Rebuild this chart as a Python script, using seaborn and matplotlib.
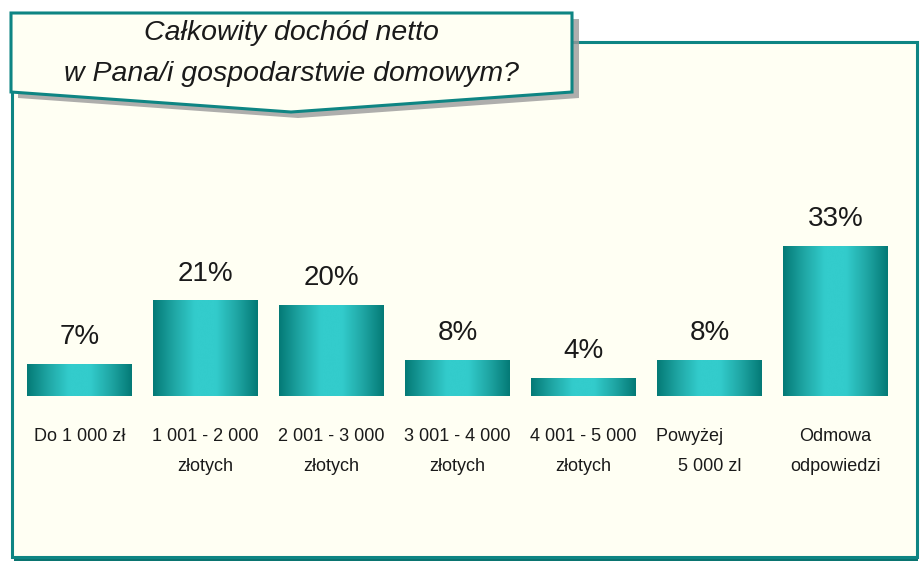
import numpy as np
import pandas as pd
import seaborn as sns
import matplotlib.pyplot as plt
from matplotlib.colors import LinearSegmentedColormap
from matplotlib.patches import Rectangle, Polygon

# data
categories = ['Do 1 000 zł', '1 001 - 2 000\nzłotych', '2 001 - 3 000\nzłotych',
              '3 001 - 4 000\nzłotych', '4 001 - 5 000\nzłotych', 'Powyżej        \n5 000 zl',
              'Odmowa\nodpowiedzi']
values = [7, 21, 20, 8, 4, 8, 33]
title_lines = ['Całkowity dochód netto', 'w Pana/i gospodarstwie domowym?']

W, H = 923, 562

sns.set_style('white')
plt.rcParams['font.family'] = ['Liberation Sans Narrow', 'Liberation Sans', 'DejaVu Sans']

fig = plt.figure(figsize=(W / 100, H / 100), dpi=100)
fig.patch.set_facecolor('white')

def fx(px):
    return px / W

def fy(py):
    return 1 - py / H

teal = '#0E8583'
cream = '#FFFFF3'

# main panel
fig.patches.append(Rectangle((fx(14), fy(561)), fx(918) - fx(14), fy(557) - fy(561),
                             transform=fig.transFigure, facecolor='#0A7470',
                             edgecolor='none', zorder=0))
fig.patches.append(Rectangle((fx(12), fy(557)), fx(917) - fx(12), fy(42) - fy(557),
                             transform=fig.transFigure, facecolor=cream,
                             edgecolor=teal, lw=2.2, zorder=0))

# title box with arrow, plus shadow
box = [(11, 13), (572, 13), (572, 92), (291, 112), (11, 92)]
shadow = [(x + 7, y + 6) for x, y in box]
fig.patches.append(Polygon([(fx(x), fy(y)) for x, y in shadow], closed=True,
                           transform=fig.transFigure, facecolor='#9a9a9a',
                           edgecolor='none', alpha=0.8, zorder=1))
fig.patches.append(Polygon([(fx(x), fy(y)) for x, y in box], closed=True,
                           transform=fig.transFigure, facecolor=cream,
                           edgecolor=teal, lw=2.2, zorder=2))
fig.text(fx(291), fy(33), title_lines[0], ha='center', va='center', fontsize=20.5,
         style='italic', color='#1a1a1a', zorder=3)
fig.text(fx(291), fy(74), title_lines[1], ha='center', va='center', fontsize=20.5,
         style='italic', color='#1a1a1a', zorder=3)

# bars
ax = fig.add_axes([fx(16.5), fy(396), fx(898.5) - fx(16.5), fy(214) - fy(396)])
ax.set_zorder(5)
ax.set_facecolor('none')
df = pd.DataFrame({'cat': categories, 'val': values})
sns.barplot(data=df, x='cat', y='val', color='#2ab7b5', width=0.833, ax=ax)

cmap = LinearSegmentedColormap.from_list(
    'bar', ['#047A76', '#1FA6A4', '#33CCCC', '#33CCCC', '#1FA6A4', '#047A76'])
grad = np.linspace(0, 1, 256).reshape(1, -1)
for p in ax.patches:
    x, w, h = p.get_x(), p.get_width(), p.get_height()
    p.set_edgecolor('none')
    im = ax.imshow(grad, extent=[x, x + w, 0, h], aspect='auto', cmap=cmap,
                   interpolation='bicubic', zorder=2)
    im.set_clip_path(p)
    ax.text(x + w / 2, h + 3.0, f'{h:.0f}%', ha='center', va='bottom',
            fontsize=20, color='#1a1a1a')

ax.set_xlim(-0.5, 6.5)
ax.set_ylim(0, 40)
ax.set_xlabel('')
ax.set_ylabel('')
ax.set_yticks([])
ax.tick_params(axis='x', length=0, pad=23, labelsize=13, colors='#1a1a1a')
for t in ax.get_xticklabels():
    t.set_linespacing(2.0)
    t.set_verticalalignment('top')
for s in ax.spines.values():
    s.set_visible(False)

fig.savefig('out.png', dpi=100)
